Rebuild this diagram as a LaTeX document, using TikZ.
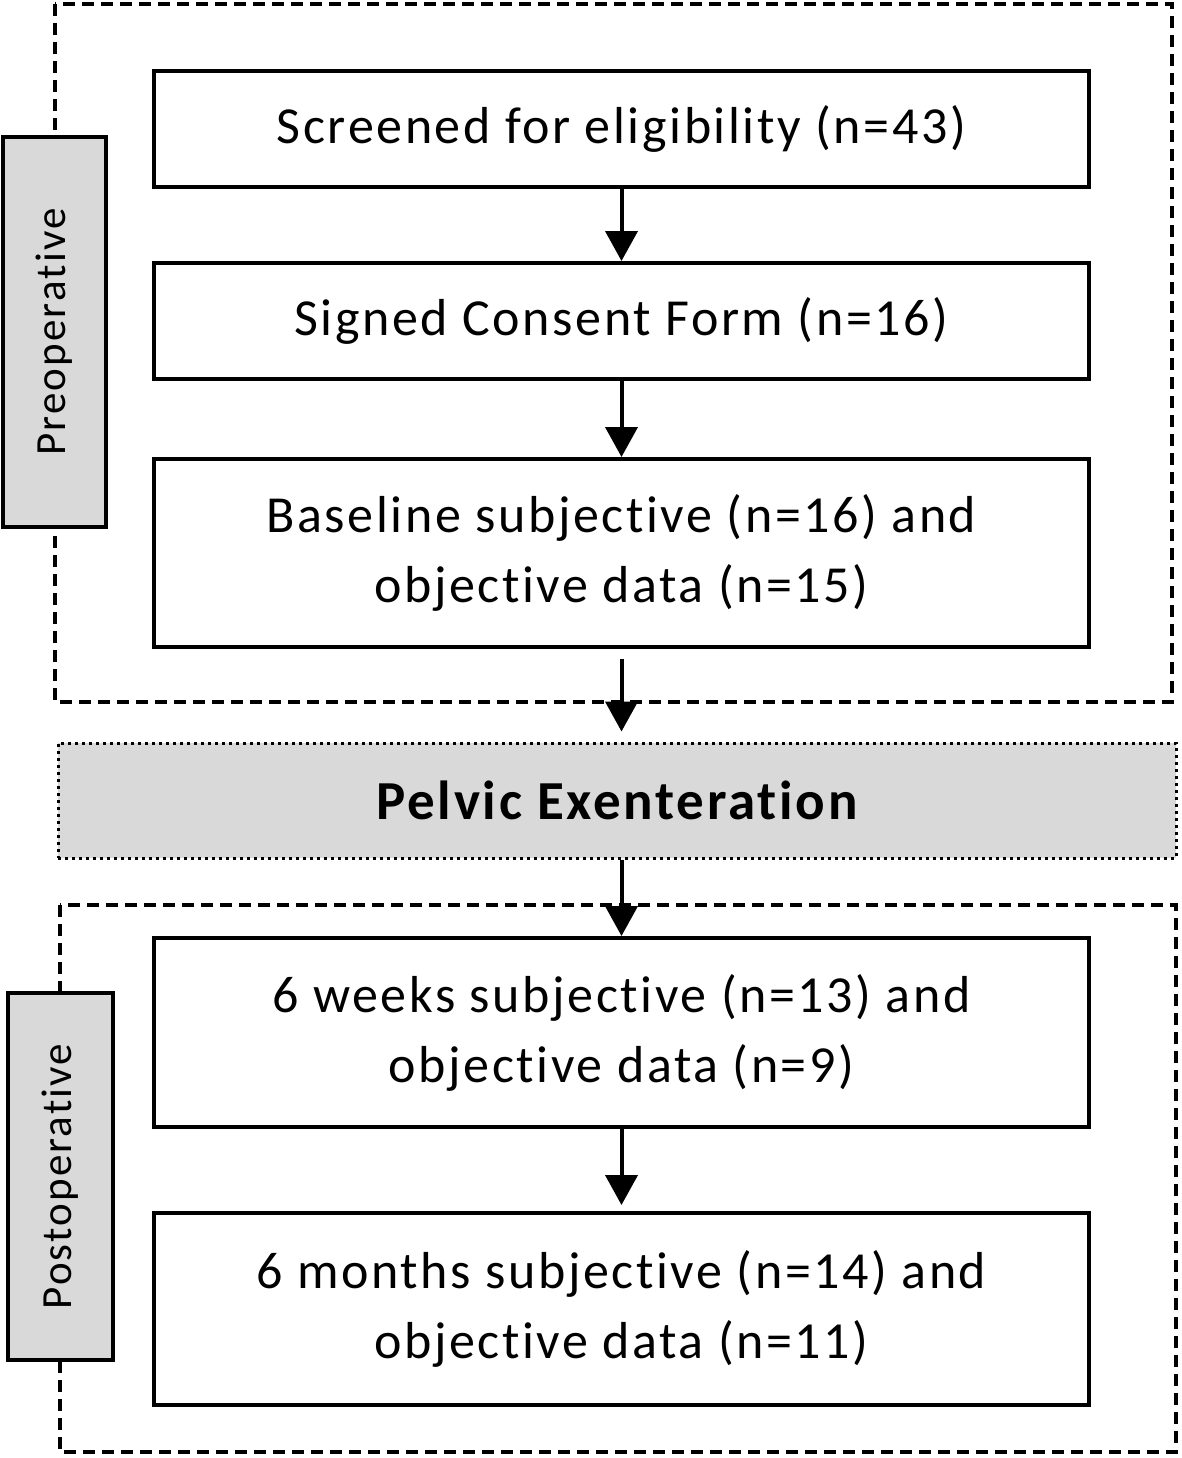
\documentclass[tikz,border=0pt]{standalone}
\usepackage{fontspec}
\setmainfont{Carlito}[LetterSpace=5, Ligatures=NoCommon]
\usetikzlibrary{arrows.meta}

\tikzset{
    stagebox/.style={draw, line width=4pt, minimum width=935pt, align=center,
        font=\fontsize{52}{70}\selectfont},
    phasebox/.style={draw, line width=4pt, fill=black!15, rotate=90,
        font=\fontsize{43}{50}\selectfont},
    phaseframe/.style={draw, line width=4pt, dash pattern=on 12pt off 7pt},
    flow/.style={-{Triangle[width=32pt,length=30pt]}, line width=4pt}
}

\begin{document}
\begin{tikzpicture}[x=1pt, y=-1pt]
    \useasboundingbox (0,0) rectangle (1181,1458);

    % dashed phase frames
    \draw[phaseframe] (55,4) rectangle (1172,702);
    \draw[phaseframe] (60,905) rectangle (1176,1452);

    % preoperative
    \node[stagebox, minimum height=116pt] (screen) at (621.5,129) {Screened for eligibility (n=43)};
    \node[stagebox, minimum height=116pt] (consent) at (621.5,321) {Signed Consent Form (n=16)};
    \node[stagebox, minimum height=188pt] (baseline) at (621.5,553) {Baseline subjective (n=16) and\\objective data (n=15)};
    \node[phasebox, minimum width=390pt, minimum height=103pt] (preop) at (54.5,332) {Preoperative};

    % surgery
    \node[draw, line width=3pt, dash pattern=on 3pt off 4pt, fill=black!15,
        minimum width=1118pt, minimum height=115pt,
        font=\fontsize{55}{62}\selectfont\bfseries] (surgery) at (617,800.5) {Pelvic Exenteration};

    % postoperative
    \node[stagebox, minimum height=189pt] (weeks) at (621.5,1032.5) {6 weeks subjective (n=13) and\\objective data (n=9)};
    \node[stagebox, minimum height=192pt] (months) at (621.5,1309) {6 months subjective (n=14) and\\objective data (n=11)};
    \node[phasebox, minimum width=367pt, minimum height=105pt] (postop) at (60.5,1176.5) {Postoperative};

    \draw[flow] (screen) -- (consent);
    \draw[flow] (consent) -- (baseline);
    \draw[flow, shorten <=10pt, shorten >=10pt] (baseline.south) -- (baseline.south |- surgery.north);
    \draw[flow] (baseline.south |- surgery.south) -- (weeks.north);
    \draw[flow, shorten >=6pt] (weeks) -- (months);
\end{tikzpicture}
\end{document}
